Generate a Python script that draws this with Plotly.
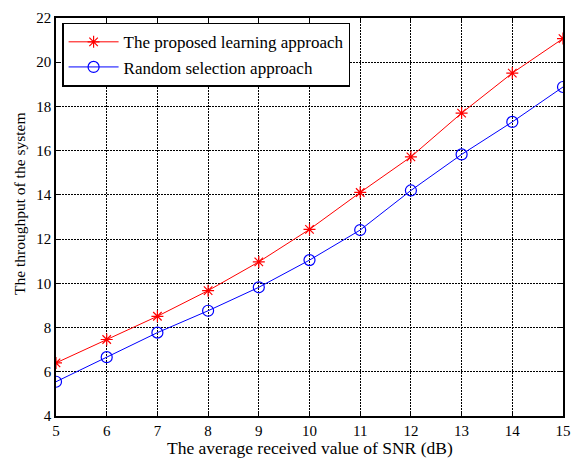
import plotly.graph_objects as go

snr = [5, 6, 7, 8, 9, 10, 11, 12, 13, 14, 15]
proposed = [6.40, 7.46, 8.51, 9.67, 10.97, 12.44, 14.11, 15.72, 17.70, 19.51, 21.07]
random_sel = [5.55, 6.66, 7.77, 8.76, 9.82, 11.05, 12.41, 14.20, 15.83, 17.30, 18.88]
names = ["The proposed learning approach", "Random selection approach"]
x_ticks = list(range(5, 16))
y_ticks = list(range(4, 23, 2))
x_title = "The average received value of SNR (dB)"
y_title = "The throughput of the system"

font_family = "Liberation Serif, Times New Roman, serif"

fig = go.Figure()
fig.add_trace(go.Scatter(
    x=snr, y=proposed, name=names[0], mode="lines+markers",
    line=dict(color="red", width=1),
    marker=dict(symbol="asterisk-open", size=10, color="red", line=dict(color="red", width=1.2)),
))
fig.add_trace(go.Scatter(
    x=snr, y=random_sel, name=names[1], mode="lines+markers",
    line=dict(color="blue", width=1),
    marker=dict(symbol="circle-open", size=11, color="blue", line=dict(color="blue", width=1.2)),
))

axis_common = dict(
    showline=True, linecolor="black", linewidth=1.5, mirror="ticks",
    ticks="inside", ticklen=5, tickcolor="black",
    showgrid=True, gridcolor="black", gridwidth=1.2, griddash="2px,1px",
    zeroline=False, automargin=False,
    tickfont=dict(family=font_family, size=15, color="black"),
)
fig.update_xaxes(range=[5, 15], tickvals=x_ticks, **axis_common)
fig.update_yaxes(range=[4, 22], tickvals=y_ticks, **axis_common)

fig.add_annotation(
    text=x_title, xref="paper", yref="paper", x=0.5, y=-0.08,
    xanchor="center", yanchor="middle", showarrow=False,
    font=dict(family=font_family, size=17.5, color="black"),
)
fig.add_annotation(
    text=y_title, xref="paper", yref="paper", x=-0.073, y=0.535,
    xanchor="center", yanchor="middle", showarrow=False, textangle=-90,
    font=dict(family=font_family, size=15.5, color="black"),
)

fig.update_layout(
    width=571, height=463,
    margin=dict(l=56, r=8, t=18, b=47, autoexpand=False),
    paper_bgcolor="white", plot_bgcolor="white",
    showlegend=True,
    legend=dict(
        x=0.012, y=0.988, xanchor="left", yanchor="top",
        bgcolor="white", bordercolor="black", borderwidth=1.5,
        font=dict(family=font_family, size=17, color="black"),
        tracegroupgap=0, itemwidth=50,
    ),
)

fig.write_html(
    "out.html",
    config={"displayModeBar": False},
    post_script="document.body.style.margin='0';document.body.style.padding='0';document.body.style.overflow='hidden';",
)
